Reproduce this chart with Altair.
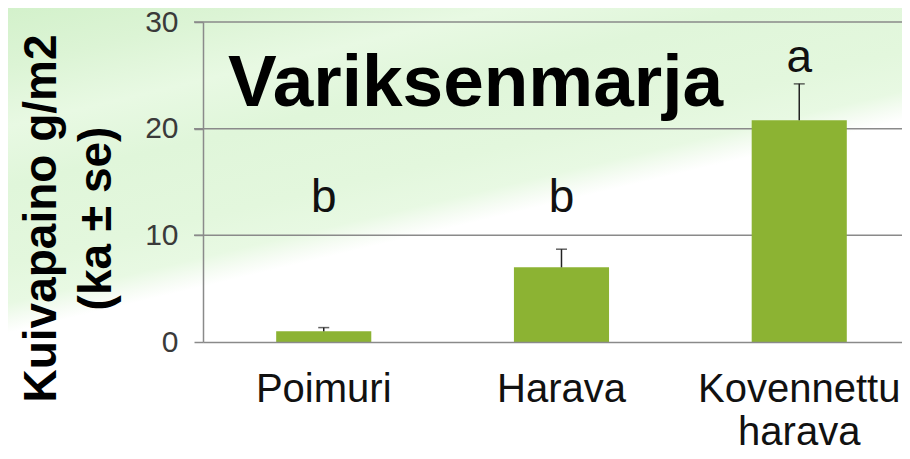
import altair as alt
import pandas as pd

categories = ["Poimuri", "Harava", "Kovennettu harava"]
means = [1.0, 7.0, 20.8]
se = [0.35, 1.7, 3.4]
letters = ["b", "b", "a"]
letter_y = [12.2, 12.2, 25.3]
grid_values = [10, 20, 30]

df = pd.DataFrame({
    "cat": categories,
    "mean": means,
    "top": [m + s for m, s in zip(means, se)],
    "letter": letters,
    "ly": letter_y,
})
grid_df = pd.DataFrame({"g": grid_values})

FONT = "Liberation Sans"
W, H = 699, 320
PB = 109

xscale = alt.Scale(domain=categories, paddingInner=0.6, paddingOuter=0.27, align=0.57)
yscale = alt.Scale(domain=[0, 30], nice=False)

xenc = alt.X("cat:N", scale=xscale, sort=categories,
             axis=alt.Axis(title=None, labelAngle=0, labelFont=FONT, labelFontSize=40,
                           labelColor="#111111", labelPadding=27, labelLineHeight=43,
                           labelLimit=500,
                           labelExpr="split(datum.label, ' ')", ticks=False,
                           domainColor="#8a8a8a", domainWidth=1.5, zindex=2,
                           labelBaseline="top"))

bg = alt.Chart(df).mark_rect(
    fill=alt.Gradient(
        gradient="linear", x1=0, y1=0, x2=0.436, y2=0.9,
        stops=[
            alt.GradientStop(color="#d3f1cb", offset=0.0),
            alt.GradientStop(color="#dcf4d5", offset=0.12),
            alt.GradientStop(color="#e8f9e3", offset=0.24),
            alt.GradientStop(color="#e0f6da", offset=0.36),
            alt.GradientStop(color="#e3f7dd", offset=0.52),
            alt.GradientStop(color="#e8f9e3", offset=0.6),
            alt.GradientStop(color="#f6fcf4", offset=0.635),
            alt.GradientStop(color="#ffffff", offset=0.66),
            alt.GradientStop(color="#ffffff", offset=1.0),
        ],
    ),
    stroke=None,
).encode(
    x=alt.value(-195), x2=alt.value(W + 10),
    y=alt.value(-14), y2=alt.value(H + PB),
)

grid = alt.Chart(grid_df).mark_rule(color="#8a8a8a", strokeWidth=1.5).encode(
    y=alt.Y("g:Q", scale=yscale),
    x=alt.value(-9), x2=alt.value(W),
)

bars = alt.Chart(df).mark_bar(color="#8cb333").encode(
    x=xenc,
    y=alt.Y("mean:Q", scale=yscale,
            axis=alt.Axis(values=[0, 10, 20, 30], grid=False, tickSize=9,
                          tickColor="#8a8a8a", tickWidth=1.5, domainColor="#8a8a8a",
                          domainWidth=1.5, labelFont=FONT, labelFontSize=30,
                          labelColor="#3a3a3a", labelPadding=16, zindex=2,
                          title=["Kuivapaino g/m2", "(ka ± se)"], titleFont=FONT,
                          titleFontSize=46, titleFontWeight="bold", titleColor="#000000",
                          titleLineHeight=55, titleAngle=270, titleAlign="center",
                          titleBaseline="top", titleX=-184, titleY=196)),
)

err = alt.Chart(df).mark_rule(color="#222222", strokeWidth=1.5).encode(
    x=alt.X("cat:N", scale=xscale, sort=categories),
    y=alt.Y("mean:Q", scale=yscale),
    y2="top:Q",
)
cap = alt.Chart(df).mark_tick(color="#222222", thickness=1.5, size=11).encode(
    x=alt.X("cat:N", scale=xscale, sort=categories),
    y=alt.Y("top:Q", scale=yscale),
)
lab = alt.Chart(df).mark_text(font=FONT, fontSize=46, color="#111111",
                              baseline="alphabetic").encode(
    x=alt.X("cat:N", scale=xscale, sort=categories),
    y=alt.Y("ly:Q", scale=yscale),
    text="letter:N",
)

chart = alt.layer(bg, grid, bars, err, cap, lab).properties(
    width=W, height=H,
    title=alt.TitleParams("Variksenmarja", anchor="start", frame="group", dx=25, dy=172,
                          offset=0, baseline="alphabetic", font=FONT, fontSize=73,
                          fontWeight="bold", color="#000000"),
    autosize=alt.AutoSizeParams(type="none"),
    padding={"left": 195, "top": 14, "right": 0, "bottom": PB},
).configure_view(stroke=None)

chart.save("out.html", embed_options={"renderer": "svg", "actions": False})
